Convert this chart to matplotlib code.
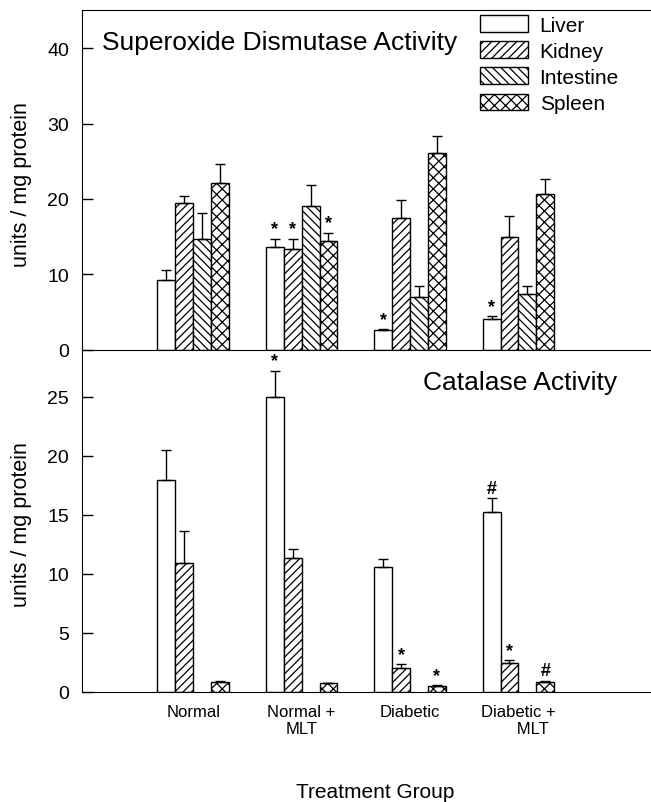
import numpy as np
from matplotlib import pyplot as plt

plt.rcParams['font.family'] = ['Liberation Sans', 'DejaVu Sans']
plt.rcParams['hatch.linewidth'] = 0.9

groups = ['Normal', 'Normal +\nMLT', 'Diabetic', 'Diabetic +\n      MLT']
tissues = ['Liver', 'Kidney', 'Intestine', 'Spleen']
hatches = ['', '////', '\\\\\\\\', 'xxx']

# superoxide dismutase (units / mg protein)
sod_liver = [9.3, 13.6, 2.6, 4.0]
sod_kidney = [19.4, 13.3, 17.5, 14.9]
sod_intestine = [14.7, 19.0, 7.0, 7.4]
sod_spleen = [22.1, 14.4, 26.1, 20.6]
sod_liver_err = [1.2, 1.1, 0.1, 0.4]
sod_kidney_err = [1.0, 1.4, 2.4, 2.9]
sod_intestine_err = [3.4, 2.8, 1.4, 1.1]
sod_spleen_err = [2.5, 1.1, 2.3, 2.1]
sod_liver_sig = ['', '*', '*', '*']
sod_kidney_sig = ['', '*', '', '']
sod_intestine_sig = ['', '', '', '']
sod_spleen_sig = ['', '*', '', '']

# catalase (units / mg protein), intestine not measured
cat_liver = [17.9, 25.0, 10.6, 15.2]
cat_kidney = [10.9, 11.3, 2.0, 2.4]
cat_spleen = [0.83, 0.70, 0.50, 0.83]
cat_liver_err = [2.6, 2.2, 0.6, 1.2]
cat_kidney_err = [2.75, 0.8, 0.3, 0.25]
cat_spleen_err = [0.07, 0.05, 0.05, 0.1]
cat_liver_sig = ['', '*', '', '#']
cat_kidney_sig = ['', '', '*', '*']
cat_spleen_sig = ['', '', '*', '#']

x = np.arange(1, len(groups) + 1)
w = 0.165
offs = np.array([-1.5, -0.5, 0.5, 1.5]) * w

fig = plt.figure(figsize=(6.51, 8.03), dpi=100)
ax1 = fig.add_axes([0.1255, 0.5635, 0.8745, 0.4228])
ax2 = fig.add_axes([0.1255, 0.1376, 0.8745, 0.4259])
ax2.patch.set_alpha(0)


def draw_bars(ax, i, vals, errs, sigs, label=None):
    xs = x + offs[i]
    ax.bar(xs, vals, w, color='white', edgecolor='black', linewidth=1,
           hatch=hatches[i], label=label, zorder=2)
    ax.errorbar(xs, vals, yerr=[np.zeros(len(vals)), errs], fmt='none',
                ecolor='black', elinewidth=1, capsize=3.6, capthick=1, zorder=3)
    for xi, v, e, s in zip(xs, vals, errs, sigs):
        if s:
            ax.annotate(s, (xi, v + e), xytext=(0, 1), textcoords='offset points',
                        ha='center', va='bottom', fontsize=13, fontweight='bold')


draw_bars(ax1, 0, sod_liver, sod_liver_err, sod_liver_sig, 'Liver')
draw_bars(ax1, 1, sod_kidney, sod_kidney_err, sod_kidney_sig, 'Kidney')
draw_bars(ax1, 2, sod_intestine, sod_intestine_err, sod_intestine_sig, 'Intestine')
draw_bars(ax1, 3, sod_spleen, sod_spleen_err, sod_spleen_sig, 'Spleen')

draw_bars(ax2, 0, cat_liver, cat_liver_err, cat_liver_sig)
draw_bars(ax2, 1, cat_kidney, cat_kidney_err, cat_kidney_sig)
draw_bars(ax2, 3, cat_spleen, cat_spleen_err, cat_spleen_sig)

for ax in (ax1, ax2):
    ax.set_xlim(-0.029, 5.223)
    ax.spines['right'].set_visible(False)
    ax.tick_params(axis='y', direction='in', length=8, width=1, labelsize=14, pad=9)
    ax.tick_params(axis='x', length=0)
    ax.set_ylabel('units / mg protein', fontsize=15.5)

ax1.set_ylim(0, 45.1)
ax1.set_yticks([0, 10, 20, 30, 40])
ax1.set_xticks([])
ax1.yaxis.set_label_coords(-0.088, 0.49)
ax1.text(0.035, 0.905, 'Superoxide Dismutase Activity', transform=ax1.transAxes,
         fontsize=19, va='center', ha='left')
ax1.legend(loc='upper left', bbox_to_anchor=(0.70, 0.985), frameon=False,
           fontsize=15, handlelength=2.3, handleheight=0.85, handletextpad=0.55,
           labelspacing=0.32, borderpad=0, borderaxespad=0)

ax2.set_ylim(0, 29.0)
ax2.set_yticks([0, 5, 10, 15, 20, 25])
ax2.set_xticks(x)
ax2.set_xticklabels(groups, fontsize=12)
ax2.tick_params(axis='x', pad=9)
ax2.yaxis.set_label_coords(-0.088, 0.49)
ax2.text(0.94, 0.905, 'Catalase Activity', transform=ax2.transAxes,
         fontsize=19, va='center', ha='right')
ax2.spines['top'].set_visible(False)

fig.text(375 / 651, 1 - 793 / 803, 'Treatment Group', fontsize=15,
         ha='center', va='center')

fig.savefig('out.png', dpi=100)
